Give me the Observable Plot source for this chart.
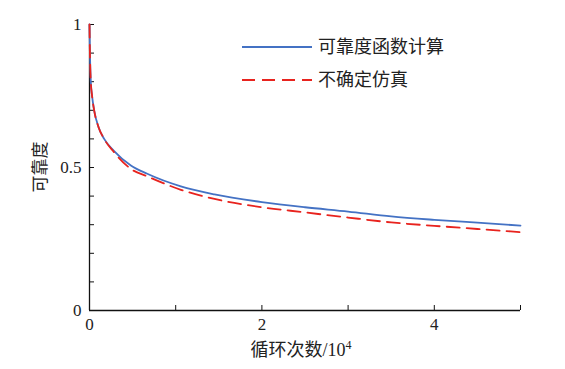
<!DOCTYPE html>
<html><head><meta charset="utf-8">
<script src="https://cdn.jsdelivr.net/npm/d3@7"></script>
<script src="https://cdn.jsdelivr.net/npm/@observablehq/plot@0.6"></script>
<style>
html,body{margin:0;padding:0;background:#fff;}
svg{font-family:"Liberation Serif","Noto Sans CJK SC",serif;}
</style></head>
<body><div id="chart"></div>
<script>
const cycles = [0, 0.005, 0.015, 0.03, 0.054, 0.105, 0.17, 0.28, 0.48, 0.67, 1.06, 1.45, 2.0, 2.5, 3.0, 3.5, 4.0, 4.5, 5.0];
const reliabilityCalc = [1.0, 0.90, 0.80, 0.75, 0.70, 0.641, 0.60, 0.559, 0.507, 0.478, 0.434, 0.406, 0.379, 0.361, 0.346, 0.329, 0.317, 0.307, 0.297];
const reliabilitySim = [1.0, 0.90, 0.80, 0.75, 0.70, 0.641, 0.60, 0.555, 0.495, 0.469, 0.422, 0.390, 0.361, 0.343, 0.325, 0.308, 0.296, 0.285, 0.274];
const seriesNames = ["可靠度函数计算", "不确定仿真"];
const seriesColors = ["#4472C4", "#E8231E"];
const xTickLabels = [0, 2, 4];
const yTickLabels = [0, 0.5, 1];
const xTitle = "循环次数/10";
const xTitleSup = "4";
const yTitle = "可靠度";

const calc = cycles.map((c, i) => ({x: c, y: reliabilityCalc[i]}));
const sim = cycles.map((c, i) => ({x: c, y: reliabilitySim[i]}));

const plot = Plot.plot({
  width: 565, height: 369,
  marginLeft: 89, marginRight: 45, marginTop: 24, marginBottom: 59,
  style: {fontFamily: '"Liberation Serif","Noto Sans CJK SC",serif', fontSize: "17px", color: "#222"},
  x: {domain: [0, 5]},
  y: {domain: [0, 1]},
  marks: [
    Plot.axisX({ticks: d3.range(0, 5.001, 1), tickSize: -5, tickFormat: () => "", stroke: "#111", label: null}),
    Plot.axisX({ticks: xTickLabels, tickSize: 0, tickPadding: 7, tickFormat: d => String(d), fontSize: 17, fill: "#222", label: null}),
    Plot.axisY({ticks: d3.range(0, 1.0001, 0.1), tickSize: -5, tickFormat: () => "", stroke: "#111", label: null}),
    Plot.axisY({ticks: yTickLabels, tickSize: 0, tickPadding: 8, tickFormat: d => String(d), fontSize: 17, fill: "#222", label: null}),
    Plot.ruleX([0], {stroke: "#111", strokeWidth: 1.3}),
    Plot.ruleY([0], {stroke: "#111", strokeWidth: 1.3}),
    Plot.line(calc, {x: "x", y: "y", stroke: seriesColors[0], strokeWidth: 1.8, curve: "monotone-x"}),
    Plot.line(sim, {x: "x", y: "y", stroke: seriesColors[1], strokeWidth: 1.8, strokeDasharray: "13,7", curve: "monotone-x"})
  ]
});
document.getElementById("chart").append(plot);

const svg = d3.select(plot);
// x title
const xt = svg.append("text").attr("x", 301).attr("y", 356).attr("text-anchor", "middle")
  .attr("font-size", 18).attr("fill", "#222");
xt.append("tspan").text(xTitle);
xt.append("tspan").attr("font-size", 12).attr("dy", -7).text(xTitleSup);
// y title
svg.append("text").attr("transform", "translate(46,167) rotate(-90)").attr("text-anchor", "middle")
  .attr("font-size", 17).attr("fill", "#222").text(yTitle);
// legend
const legendY = [47, 80];
seriesNames.forEach((name, i) => {
  svg.append("line").attr("x1", 242).attr("x2", 312).attr("y1", legendY[i]).attr("y2", legendY[i])
    .attr("stroke", seriesColors[i]).attr("stroke-width", 1.8)
    .attr("stroke-dasharray", i === 1 ? "13,7" : null);
  svg.append("text").attr("x", 318).attr("y", legendY[i]).attr("dy", "0.35em")
    .attr("text-anchor", "start")
    .attr("font-size", 18).attr("fill", "#222").text(name);
});
</script></body></html>
